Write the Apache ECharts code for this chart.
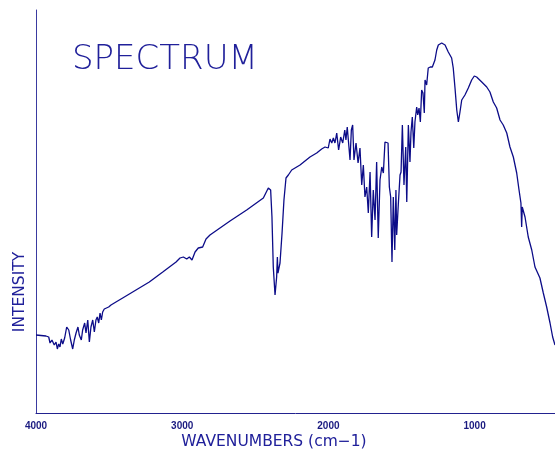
<!DOCTYPE html>
<html><head><meta charset="utf-8">
<script src="https://cdn.jsdelivr.net/npm/echarts@6/dist/echarts.min.js"></script>
<style>html,body{margin:0;padding:0;background:#fff}#c{width:555px;height:456px}</style>
</head><body><div id="c"></div>
<script>
const wavenumbers = [4000,3932,3913,3904,3891,3875,3863,3854,3845,3836,3827,3817,3804,3790,3776,3763,3749,3738,3726,3713,3704,3690,3681,3667,3658,3646,3635,3624,3612,3601,3590,3581,3571,3562,3553,3544,3533,3521,3503,3487,3453,3407,3316,3225,3133,3042,3015,2992,2969,2951,2933,2912,2890,2860,2837,2810,2673,2559,2445,2411,2395,2386,2377,2365,2354,2349,2345,2331,2317,2304,2290,2274,2251,2194,2126,2080,2046,2023,2012,2001,1989,1977,1966,1955,1943,1930,1916,1902,1888,1880,1871,1861,1852,1843,1834,1825,1811,1797,1784,1772,1761,1750,1738,1727,1715,1704,1693,1681,1670,1659,1647,1635,1624,1613,1601,1592,1583,1574,1565,1556,1546,1538,1533,1522,1510,1503,1494,1483,1471,1464,1453,1442,1435,1426,1416,1408,1396,1389,1380,1371,1362,1353,1344,1339,1328,1317,1303,1289,1280,1271,1259,1248,1225,1202,1180,1157,1146,1134,1122,1111,1100,1088,1066,1043,1020,1002,986,951,917,895,872,849,826,804,780,758,735,712,696,683,678,674,655,633,609,587,553,530,507,484,466,450];
const intensity = [78,77,76,70,73,68,71,64,69,66,74,69,75,86,83,73,64,73,80,86,78,73,83,90,80,93,71,86,93,81,93,96,90,100,93,101,104,103,106,108,111,115,123,131,141,151,155,156,154,156,153,161,165,166,174,178,192,203,215,225,223,196,146,118,136,156,140,150,180,213,235,238,243,248,256,260,264,266,268,265,274,270,275,270,280,263,276,270,283,273,286,288,253,283,288,253,270,250,265,228,248,216,226,200,241,176,223,193,251,175,233,246,240,271,273,270,226,216,151,216,163,223,178,208,238,241,288,228,266,211,288,251,281,296,265,291,306,298,305,291,323,320,300,333,328,345,346,346,345,353,363,368,370,368,361,355,345,325,303,291,301,313,318,325,333,337,336,331,326,321,311,305,293,288,280,266,256,240,223,210,186,206,196,176,163,146,135,120,106,90,76,68];
const xTicks = [1000,2000,3000,4000];
const titleText = 'SPECTRUM';
const xName = 'WAVENUMBERS (cm\u22121)';
const yName = 'INTENSITY';

const data = wavenumbers.map((w,i)=>[w,intensity[i]]);
const chart = echarts.init(document.getElementById('c'), null, {renderer:'canvas'});
const axisColor = '#22228f';
chart.setOption({
  animation:false,
  backgroundColor:'#ffffff',
  grid:{left:36,right:0,top:10,bottom:43,containLabel:false},
  xAxis:{type:'value',min:450,max:4000,inverse:true,
    axisLine:{show:true,onZero:false,lineStyle:{color:axisColor,width:1}},
    axisTick:{show:false},
    splitLine:{show:false},
    axisLabel:{customValues:xTicks,margin:8,color:'#1a1a80',fontFamily:'Liberation Sans',fontWeight:'bold',fontSize:10,
      formatter:v=>String(v)}
  },
  yAxis:{type:'value',min:0,max:403,
    axisLine:{show:true,onZero:false,lineStyle:{color:'#3a3aa0',width:1}},
    axisTick:{show:false},axisLabel:{show:false},splitLine:{show:false}
  },
  graphic:[
    {type:'text',left:72,top:43,style:{text:titleText,fill:'#20209a',font:'200 34px "DejaVu Sans"'}},
    {type:'text',x:274,y:442,style:{text:xName,fill:'#20209a',font:'15.5px "DejaVu Sans"',align:'center',verticalAlign:'middle'}},
    {type:'text',x:20,y:292,rotation:Math.PI/2,style:{text:yName,fill:'#20209a',font:'15.5px "DejaVu Sans"',align:'center',verticalAlign:'middle'}}
  ],
  series:[{type:'line',data:data,showSymbol:false,symbol:'none',smooth:false,
    lineStyle:{color:'#0c0c88',width:1.3}}]
});
</script></body></html>
